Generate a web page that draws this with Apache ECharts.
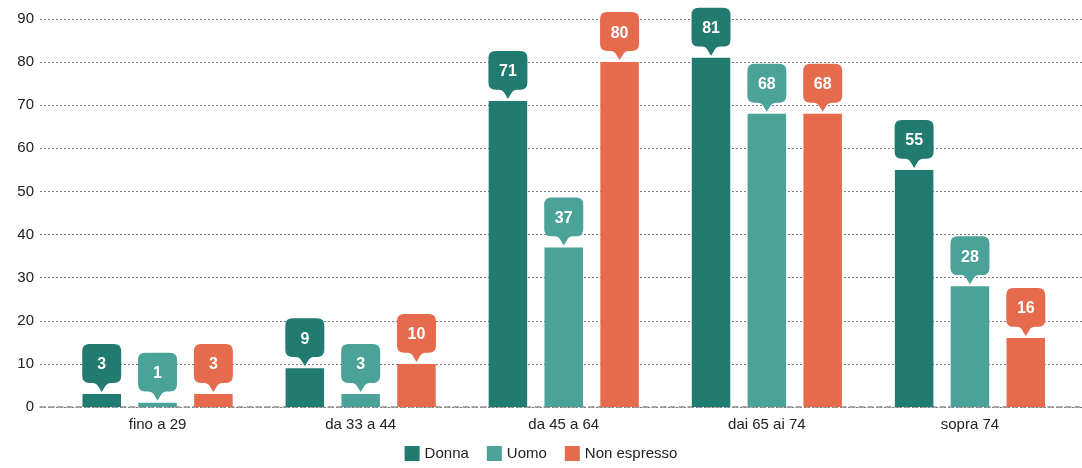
<!DOCTYPE html>
<html>
<head>
<meta charset="utf-8">
<script src="https://cdn.jsdelivr.net/npm/echarts@6/dist/echarts.min.js"></script>
<style>
html,body{margin:0;padding:0;background:#fff;}
#chart{width:1082px;height:468px;}
</style>
</head>
<body>
<div id="chart"></div>
<script>
const categories = ['fino a 29', 'da 33 a 44', 'da 45 a 64', 'dai 65 ai 74', 'sopra 74'];
const seriesNames = ['Donna', 'Uomo', 'Non espresso'];
const donna = [3, 9, 71, 81, 55];
const uomo = [1, 3, 37, 68, 28];
const nonEspresso = [3, 10, 80, 68, 16];
const colors = ['#217b70', '#4aa298', '#e66b4c'];
const yTicks = { min: 0, max: 90, interval: 10 };

const font = 'Liberation Sans, Arial, Helvetica, sans-serif';
const calloutPath = 'path://M7,0 H31 Q38,0 38,7 V31 Q38,38 31,38 H28 Q24,38 22,42 L19,47 L16,42 Q14,38 10,38 H7 Q0,38 0,31 V7 Q0,0 7,0 Z';
const values = [donna, uomo, nonEspresso];
const BW = 38.5, GAP = '45%';

const series = [];
values.forEach((vals, i) => {
  series.push({
    name: seriesNames[i], type: 'bar', xAxisIndex: 1, yAxisIndex: 1,
    data: vals, barWidth: BW, barGap: GAP, z: 3,
    itemStyle: { color: colors[i] },
    label: { show: true, position: 'top', distance: 21, color: '#fff', fontFamily: font,
             fontSize: 16, fontWeight: 'bold', lineHeight: 16 }
  });
});
values.forEach((vals, i) => {
  series.push({
    name: seriesNames[i], type: 'pictorialBar', xAxisIndex: 1, yAxisIndex: 1,
    data: vals, barWidth: BW, barGap: GAP, z: 2, silent: true,
    symbol: calloutPath, symbolSize: [39, 48], symbolPosition: 'end',
    symbolOffset: [0, -50], itemStyle: { color: colors[i] },
    tooltip: { show: false }
  });
});

const chart = echarts.init(document.getElementById('chart'));
chart.setOption({
  animation: false,
  textStyle: { fontFamily: font },
  grid: [
    { left: 40, right: 0, top: 19, bottom: 61 },
    { left: 56, right: 10.5, top: 19, bottom: 61 }
  ],
  legend: {
    data: seriesNames, bottom: 2, left: 'center', icon: 'rect',
    itemWidth: 15, itemHeight: 15, itemGap: 18,
    textStyle: { fontSize: 15, color: '#222', fontFamily: font }
  },
  xAxis: [
    { type: 'category', gridIndex: 0, data: categories, axisTick: { show: false },
      axisLabel: { show: false },
      axisLine: { show: true, lineStyle: { color: '#8f8f8f', width: 1.5, type: [5, 4] } } },
    { type: 'category', gridIndex: 1, data: categories, axisTick: { show: false },
      axisLine: { show: false },
      axisLabel: { color: '#222', fontSize: 15, margin: 10, fontFamily: font } }
  ],
  yAxis: [
    { type: 'value', gridIndex: 0, min: yTicks.min, max: yTicks.max, interval: yTicks.interval,
      axisLabel: { color: '#222', fontSize: 15, margin: 6, fontFamily: font },
      axisLine: { show: false }, axisTick: { show: false },
      splitLine: { show: true, lineStyle: { color: '#7a7a7a', width: 1, type: [2, 2] } } },
    { type: 'value', gridIndex: 1, min: yTicks.min, max: yTicks.max, interval: yTicks.interval,
      show: false, splitLine: { show: false } }
  ],
  series: series
});
</script>
</body>
</html>
